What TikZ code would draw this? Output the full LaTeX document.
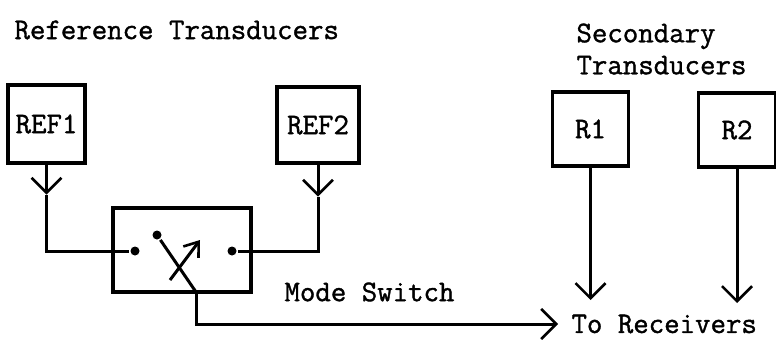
\documentclass[tikz,border=0pt]{standalone}
\usepackage{fontspec}
\newfontfamily\typew[FakeBold=1.2]{Latin Modern Mono}
\usetikzlibrary{positioning,arrows.meta}

\begin{document}
\begin{tikzpicture}[
  x=1pt, y=-1pt,
  font=\typew\fontsize{30}{32}\selectfont,
  line width=3pt,
  tbox/.style={draw, line width=3.2pt, inner sep=0pt},
  wire/.style={line width=3pt},
  vee/.style={-{Straight Barb[length=15pt,width=30pt,line width=2.6pt]}, line width=3pt},
  swarr/.style={-{Straight Barb[length=13pt,width=19pt,line width=2.6pt]}, line width=3pt},
  dot/.style={circle, fill, inner sep=0pt, minimum size=9pt},
  lab/.style={inner sep=0pt},
]
\useasboundingbox (0,0) rectangle (776,342);

% =========================== REFERENCE TRANSDUCERS ===========================
\node[lab, anchor=west] (reftitle) at (13,30) {Reference Transducers};
\node[tbox, minimum width=77pt, minimum height=78pt] (ref1) at (46.5,124) {REF1};
\node[tbox, minimum width=82pt, minimum height=76pt] (ref2) at (318,125) {REF2};

% =========================== MODE SWITCH ===========================
\node[tbox, minimum width=138pt, minimum height=84pt] (sw) at (182,250) {};
\node[dot] (ldot) at (135,251) {};
\node[dot] (rdot) at (232,251) {};
\node[dot] (pivot) at (157,235) {};
\coordinate (swfoot) at (196,292);
\coordinate (armA) at (170,280);
\coordinate (armB) at (200,240);
\draw[wire] (pivot) -- (swfoot);
\draw[swarr] (armA) -- (armB);
\node[lab, anchor=west] (modelab) at (283,292) {Mode Switch};

\draw[vee] (ref1.south) -- ++(0,30) coordinate (ref1tip);
\draw[wire] (ref1tip) |- (ldot);
\draw[vee] (ref2.south) -- ++(0,32) coordinate (ref2tip);
\draw[wire] (ref2tip) |- (rdot);

% =========================== SECONDARY TRANSDUCERS ===========================
\node[lab, anchor=west, align=left] (sectitle) at (575,49) {Secondary\\Transducers};
\node[tbox, minimum width=76pt, minimum height=74pt] (r1) at (590.5,129) {R1};
\node[tbox, minimum width=77pt, minimum height=74pt] (r2) at (737,130) {R2};
\coordinate (r1end) at (590.5,300);
\coordinate (r2end) at (737,303);
\draw[vee] (r1) -- (r1end);
\draw[vee] (r2) -- (r2end);

% to receivers
\node[lab, anchor=west, inner xsep=12pt] (torx) at (558,324) {To Receivers};
\draw[vee] (swfoot) |- (torx.west);

\end{tikzpicture}
\end{document}
